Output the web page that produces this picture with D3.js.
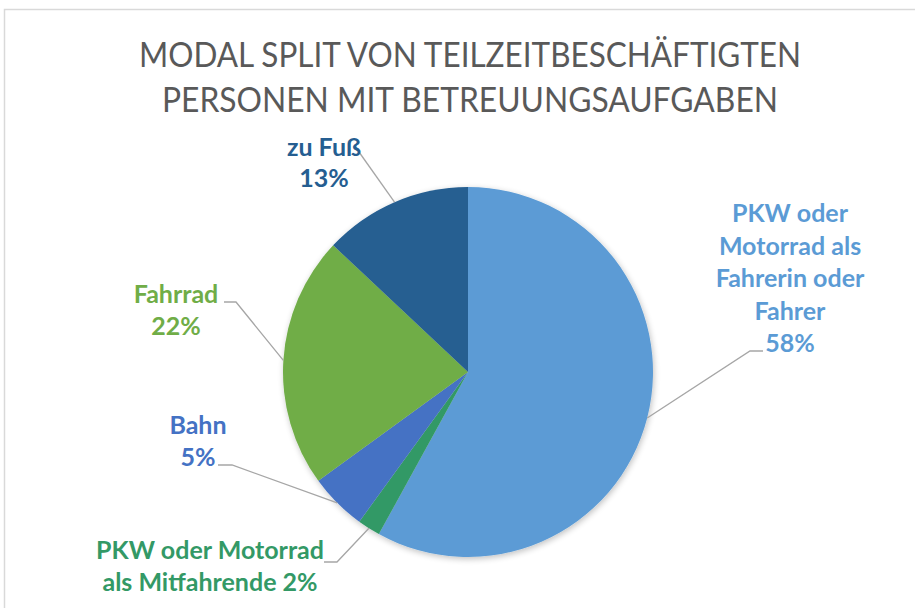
<!DOCTYPE html>
<html>
<head>
<meta charset="utf-8">
<script src="https://cdn.jsdelivr.net/npm/d3@7"></script>
<style>
body{margin:0;background:#fff;}
svg{display:block;}
</style>
</head>
<body>
<svg id="chart" width="915" height="608"></svg>
<script>
var titleLines=["MODAL SPLIT VON TEILZEITBESCHÄFTIGTEN","PERSONEN MIT BETREUUNGSAUFGABEN"];
var categories=["PKW oder Motorrad als Fahrerin oder Fahrer","PKW oder Motorrad als Mitfahrende","Bahn","Fahrrad","zu Fuß"];
var values=[58,2,5,22,13];
var colors=["#5B9BD5","#339966","#4472C4","#70AD47","#255E91"];
// label text lines, last line carries the percent
var labelLines=[
	["PKW oder","Motorrad als","Fahrerin oder","Fahrer","58%"],
	["PKW oder Motorrad","als Mitfahrende 2%"],
	["Bahn","5%"],
	["Fahrrad","22%"],
	["zu Fuß","13%"]
];
// label anchor (center x, first baseline) and leader elbow
var labelPos=[[790,222],[210,559],[198,434],[176,303],[324,156]];
var elbows=[[[763,351],[750,351]],[[324,562],[337,562]],[[218,465],[232,465]],[[224,302],[236,302]],[[359,152],[359,152]]];
var lineH=[32.5,32,32,32,31];
var titleWidths=[662,616];

var svg=d3.select("#chart");
var font="Lato, 'Noto Sans', sans-serif";

svg.append("rect").attr("x",4.5).attr("y",9.5).attr("width",930).attr("height",620)
	.attr("fill","#fff").attr("stroke","#D9D9D9").attr("stroke-width",1.5);

svg.selectAll("text.title").data(titleLines).enter().append("text")
	.attr("class","title")
	.attr("x",470).attr("y",(d,i)=>67+i*45)
	.attr("text-anchor","middle")
	.attr("textLength",(d,i)=>titleWidths[i]).attr("lengthAdjust","spacingAndGlyphs")
	.style("font-family",font).style("font-size","34px").style("fill","#595959")
	.text(d=>d);

var defs=svg.append("defs");
var f=defs.append("filter").attr("id","sh").attr("x","-20%").attr("y","-20%").attr("width","140%").attr("height","140%");
f.append("feGaussianBlur").attr("in","SourceAlpha").attr("stdDeviation",3);
f.append("feOffset").attr("dx",1).attr("dy",2).attr("result","b");
f.append("feComponentTransfer").append("feFuncA").attr("type","linear").attr("slope",0.25);
var m=f.append("feMerge");m.append("feMergeNode");m.append("feMergeNode").attr("in","SourceGraphic");

var cx=468,cy=372,r=185;
var pie=d3.pie().sort(null).value(d=>d);
var arcs=pie(values);
var arc=d3.arc().innerRadius(0).outerRadius(r);

var g=svg.append("g").attr("transform","translate("+cx+","+cy+")");
g.append("g").attr("filter","url(#sh)").selectAll("path").data(arcs).enter().append("path")
	.attr("d",arc).attr("fill",(d,i)=>colors[i]);

// leader lines
arcs.forEach(function(a,i){
	var mid=(a.startAngle+a.endAngle)/2;
	var px=cx+Math.sin(mid)*r, py=cy-Math.cos(mid)*r;
	var e=elbows[i];
	svg.append("polyline")
		.attr("points",[e[0],e[1],[px,py]].map(p=>p.join(",")).join(" "))
		.attr("fill","none").attr("stroke","#A6A6A6").attr("stroke-width",1.3);
});

labelLines.forEach(function(lines,i){
	var t=svg.append("text").attr("text-anchor","middle")
		.style("font-family",font).style("font-size","25px").style("font-weight","bold")
		.style("fill",colors[i]);
	lines.forEach(function(l,j){
		t.append("tspan").attr("x",labelPos[i][0]).attr("y",labelPos[i][1]+j*lineH[i]).text(l);
	});
});
</script>
</body>
</html>
